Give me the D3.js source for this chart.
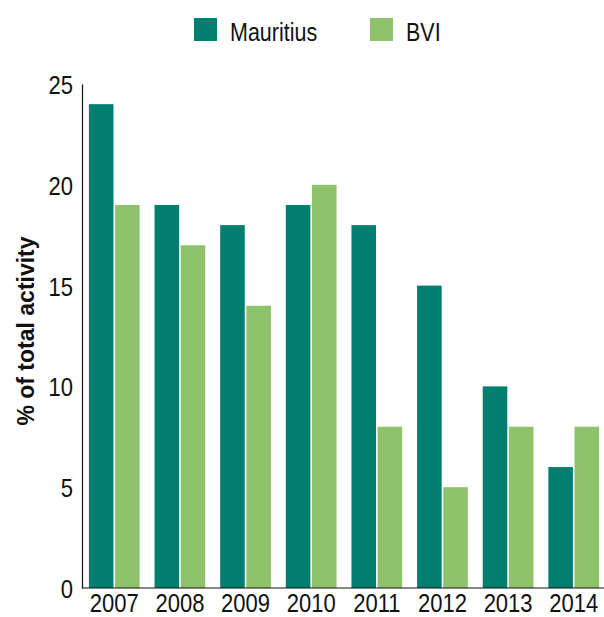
<!DOCTYPE html>
<html>
<head>
<meta charset="utf-8">
<script src="https://cdn.jsdelivr.net/npm/d3@7"></script>
<style>
  body { margin: 0; background: #fff; }
  text { font-family: "Liberation Sans", Arial, sans-serif; fill: #111; }
</style>
</head>
<body>
<script>
//dims
const width = 604, height = 617;

//data
const years = ['2007','2008','2009','2010','2011','2012','2013','2014'];
const seriesNames = ['Mauritius','BVI'];
const mauritius = [24, 19, 18, 19, 18, 15, 10, 6];
const bvi = [19, 17, 14, 20, 8, 5, 8, 8];
const yTicks = [0, 5, 10, 15, 20, 25];
const colors = ['#007f70', '#8ec36c'];

const rows = years.map((y, i) => ({ year: y, values: [mauritius[i], bvi[i]] }));

const svg = d3.select('body').append('svg')
    .attr('width', width)
    .attr('height', height);

//scales
const x = d3.scaleBand()
    .domain(years)
    .range([83, 605])
    .paddingInner(0.227)
    .paddingOuter(0.09);
const x1 = d3.scaleBand()
    .domain(seriesNames)
    .range([0, x.bandwidth()])
    .paddingInner(0.06);
const y = d3.scaleLinear()
    .domain([0, 25])
    .range([588, 84]);

const squeeze = 0.88; // condensed look for the labels

//bars
const groups = svg.selectAll('.grp')
    .data(rows)
  .enter().append('g')
    .attr('class', 'grp')
    .attr('transform', d => `translate(${x(d.year)},0)`);
groups.selectAll('rect')
    .data(d => d.values.map((v, i) => ({ key: seriesNames[i], value: v, i: i })))
  .enter().append('rect')
    .attr('x', d => x1(d.key))
    .attr('width', x1.bandwidth())
    .attr('y', d => y(d.value))
    .attr('height', d => y(0) - y(d.value))
    .attr('fill', d => colors[d.i]);

//y axis
const yAxis = svg.append('g')
    .attr('transform', 'translate(82,0)')
    .call(d3.axisLeft(y).tickValues(yTicks).tickSize(0));
yAxis.select('.domain').attr('stroke', '#111').attr('stroke-width', 1.2);
yAxis.selectAll('text')
    .style('font-size', '25px')
    .attr('fill', '#111')
    .attr('x', -9 / squeeze)
    .attr('dy', '0.38em')
    .attr('transform', `scale(${squeeze},1)`);

//x axis
const xAxis = svg.append('g')
    .attr('transform', 'translate(0,588)')
    .call(d3.axisBottom(x).tickSize(0).tickPadding(6));
xAxis.select('.domain').attr('d', 'M82,0H604').attr('stroke', '#111').attr('stroke-width', 1.2);
xAxis.selectAll('text')
    .style('font-size', '25px')
    .attr('fill', '#111')
    .attr('transform', `scale(${squeeze},1)`);

//y label
svg.append('text')
    .attr('transform', 'translate(34,331) rotate(-90)')
    .attr('text-anchor', 'middle')
    .style('font-size', '23px')
    .style('font-weight', 'bold')
    .text('% of total activity');

//legend
const legendX = [194, 370];
const legend = svg.selectAll('.leg')
    .data(seriesNames)
  .enter().append('g')
    .attr('class', 'leg')
    .attr('transform', (d, i) => `translate(${legendX[i]},18)`);
legend.append('rect')
    .attr('width', 23)
    .attr('height', 23)
    .attr('fill', (d, i) => colors[i]);
legend.append('text')
    .attr('transform', `translate(36,23) scale(0.86,1)`)
    .style('font-size', '25px')
    .text(d => d);
</script>
</body>
</html>
